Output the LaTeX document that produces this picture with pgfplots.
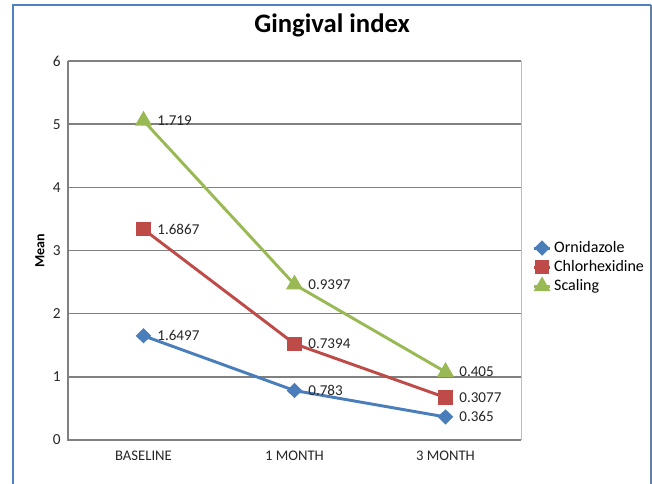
\documentclass[border=0pt]{standalone}
\usepackage{pgfplots}
\pgfplotsset{compat=1.18}
\usepackage{pgfplotstable}
\usepackage{fontspec}
\setmainfont{Carlito}
\usetikzlibrary{plotmarks}
\definecolor{cBlue}{RGB}{74,126,187}
\definecolor{cRed}{RGB}{190,75,72}
\definecolor{cGreen}{RGB}{152,185,84}
\definecolor{cFrame}{RGB}{79,129,189}
\definecolor{cGrid}{RGB}{128,128,128}
\definecolor{cLight}{RGB}{190,190,190}

\pgfplotstableread{
x y lab
0 1.6497 1.6497
1 0.783 0.783
2 0.365 0.365
}\ornid
\pgfplotstableread{
x y lab
0 1.6867 1.6867
1 0.7394 0.7394
2 0.3077 0.3077
}\chlor
\pgfplotstableread{
x y lab
0 1.719 1.719
1 0.9397 0.9397
2 0.405 0.405
}\scal

\begin{document}
\begin{tikzpicture}[x=0.75pt,y=0.75pt]
\useasboundingbox (0,0) rectangle (652,484);
\draw[cFrame, line width=1.5pt] (13,0) -- (13,479) -- (651,479);
\draw[cFrame!60!gray, line width=0.8pt] (651,479) -- (651,0);
\begin{axis}[
  at={(51pt,33pt)}, anchor=south west,
  scale only axis, width=339.75pt, height=284.25pt,
  xmin=-0.5, xmax=2.5, ymin=0, ymax=6,
  clip=false,
  xtick={0,1,2}, xticklabels={BASELINE,1 MONTH,3 MONTH},
  ytick={0,1,2,3,4,5,6},
  major tick length=0pt,
  /pgf/number format/assume math mode=true,
  tick label style={font=\fontsize{11}{13}\selectfont, text=black!85},
  xticklabel style={yshift=-5pt},
  yticklabel style={xshift=-2pt, font=\fontsize{11.5}{13}\selectfont},
  axis line style={draw=none},
  ymajorgrids, grid style={cGrid, line width=1.1pt},
  stack plots=y,
  ylabel={\textbf{Mean}},
  ylabel style={at={(axis description cs:-0.062,0.5)}, anchor=center, font=\fontsize{10.5}{12}\selectfont},
  nodes near coords,
  point meta=explicit symbolic,
  every node near coord/.append style={anchor=west, xshift=6pt, font=\fontsize{11.3}{13}\selectfont, text=black!85},
  legend style={at={(1.025,0.456)}, anchor=west, draw=none, fill=none,
    font=\fontsize{12}{14}\selectfont, row sep=0.5pt,
    legend cell align=left, inner sep=0pt},
  legend image code/.code={\draw[mark repeat=2,mark phase=2] plot coordinates {(0pt,0pt) (6pt,0pt) (12pt,0pt)};},
]
\draw[cGrid, line width=1.1pt] (rel axis cs:0,1) -- (rel axis cs:0,0) -- (rel axis cs:1,0);
\draw[cLight, line width=0.6pt] (rel axis cs:1,0) -- (rel axis cs:1,1);
\addplot[cBlue, line width=2.2pt, mark=diamond*, mark size=4.2pt, mark options={xscale=1.35, solid}] table[x=x, y=y, meta=lab] {\ornid};
\addlegendentry{Ornidazole}
\addplot[cRed, line width=2.2pt, mark=square*, mark size=4.3pt, mark options={solid}] table[x=x, y=y, meta=lab] {\chlor};
\addlegendentry{Chlorhexidine}
\addplot[cGreen, line width=2.2pt, mark=triangle*, mark size=5.2pt, mark options={solid}] table[x=x, y=y, meta=lab] {\scal};
\addlegendentry{Scaling}
\node[font=\fontsize{20}{23}\selectfont\bfseries, anchor=center] at (axis description cs:0.583,1.093) {Gingival index};
\end{axis}
\end{tikzpicture}
\end{document}
